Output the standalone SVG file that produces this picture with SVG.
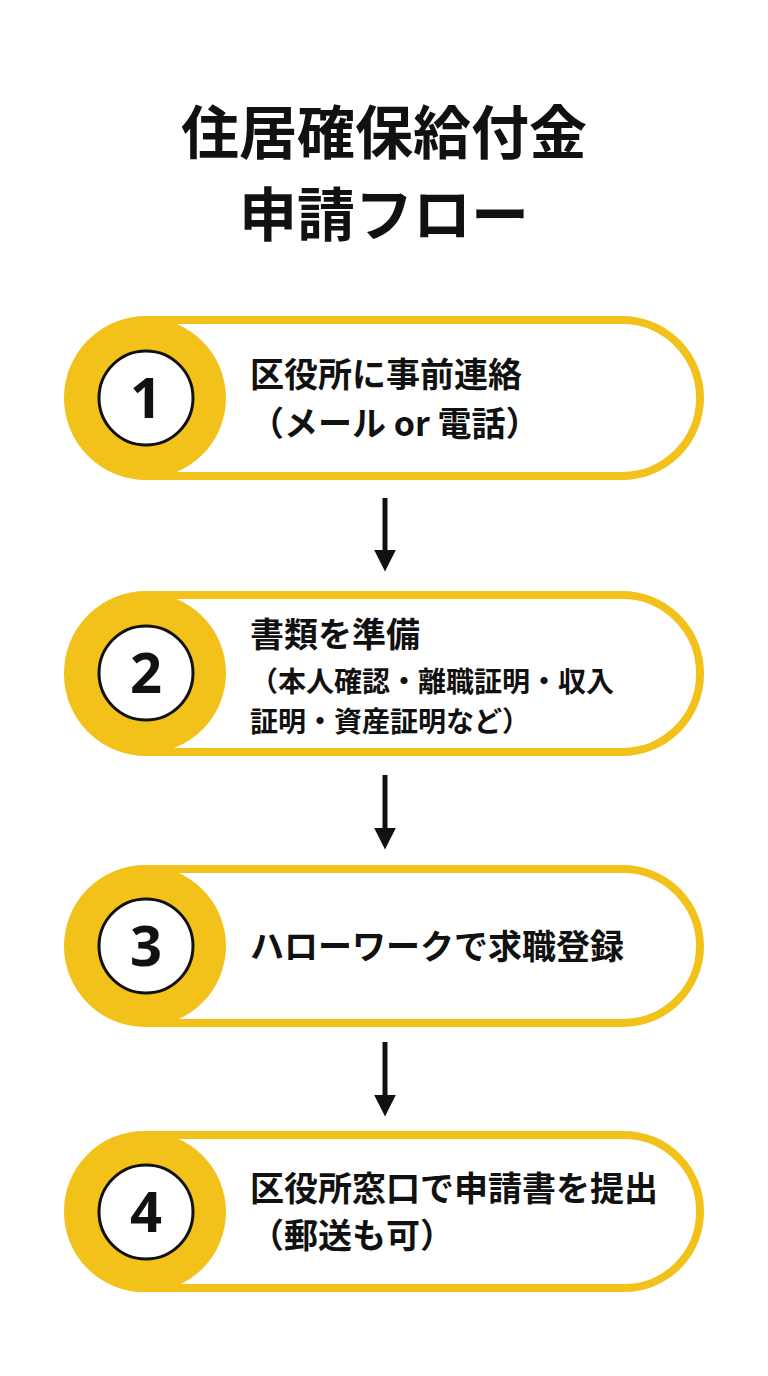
<svg xmlns="http://www.w3.org/2000/svg" width="768" height="1376" viewBox="0 0 768 1376">
<defs>
<style>
text{font-family:"Noto Sans CJK JP","Noto Sans",sans-serif;font-weight:bold;fill:#111}
.pill{fill:#fff;stroke:#F2C21B;stroke-width:8}
.disk{fill:#F2C21B}
.inner{fill:#fff;stroke:#111;stroke-width:3}
.num{font-family:"Noto Sans",sans-serif;font-size:56px;text-anchor:middle}
.t{font-size:34px}
.s{font-size:28px}
.arr{stroke:#111;stroke-width:5;fill:none}
</style>
<marker id="ah" viewBox="0 0 10 10" refX="2" refY="5" markerWidth="22" markerHeight="22" orient="auto" markerUnits="userSpaceOnUse">
<path d="M0 0L10 5L0 10Z" fill="#111"/>
</marker>
</defs>
<rect width="768" height="1376" fill="#fff"/>
<g id="title">
<text x="384" y="154" font-size="58" text-anchor="middle">住居確保給付金</text>
<text x="384" y="236" font-size="58" text-anchor="middle">申請フロー</text>
</g>
<g id="step1">
<rect class="pill" x="68" y="320" width="632" height="156" rx="78"/>
<circle class="disk" cx="146" cy="398" r="80"/>
<circle class="inner" cx="146" cy="398" r="47"/>
<text class="num" x="146" y="418">1</text>
<text class="t" x="250" y="387">区役所に事前連絡</text>
<text class="t" x="250" y="436">（メール or 電話）</text>
</g>
<g id="step2">
<rect class="pill" x="68" y="595" width="632" height="157" rx="78"/>
<circle class="disk" cx="146" cy="673" r="80"/>
<circle class="inner" cx="146" cy="673" r="47"/>
<text class="num" x="146" y="693">2</text>
<text class="t" x="250" y="647">書類を準備</text>
<text class="s" x="250" y="692">（本人確認・離職証明・収入</text>
<text class="s" x="250" y="732">証明・資産証明など）</text>
</g>
<g id="step3">
<rect class="pill" x="68" y="869" width="632" height="154" rx="77"/>
<circle class="disk" cx="146" cy="946" r="80"/>
<circle class="inner" cx="146" cy="946" r="47"/>
<text class="num" x="146" y="966">3</text>
<text class="t" x="250" y="959">ハローワークで求職登録</text>
</g>
<g id="step4">
<rect class="pill" x="68" y="1135" width="632" height="153" rx="76"/>
<circle class="disk" cx="146" cy="1212" r="80"/>
<circle class="inner" cx="146" cy="1212" r="47"/>
<text class="num" x="146" y="1232">4</text>
<text class="t" x="250" y="1201">区役所窓口で申請書を提出</text>
<text class="t" x="250" y="1248">（郵送も可）</text>
</g>
<g id="connectors">
<line class="arr" x1="385" y1="498" x2="385" y2="554" marker-end="url(#ah)"/>
<line class="arr" x1="385" y1="775" x2="385" y2="832" marker-end="url(#ah)"/>
<line class="arr" x1="385" y1="1042" x2="385" y2="1099" marker-end="url(#ah)"/>
</g>
</svg>
